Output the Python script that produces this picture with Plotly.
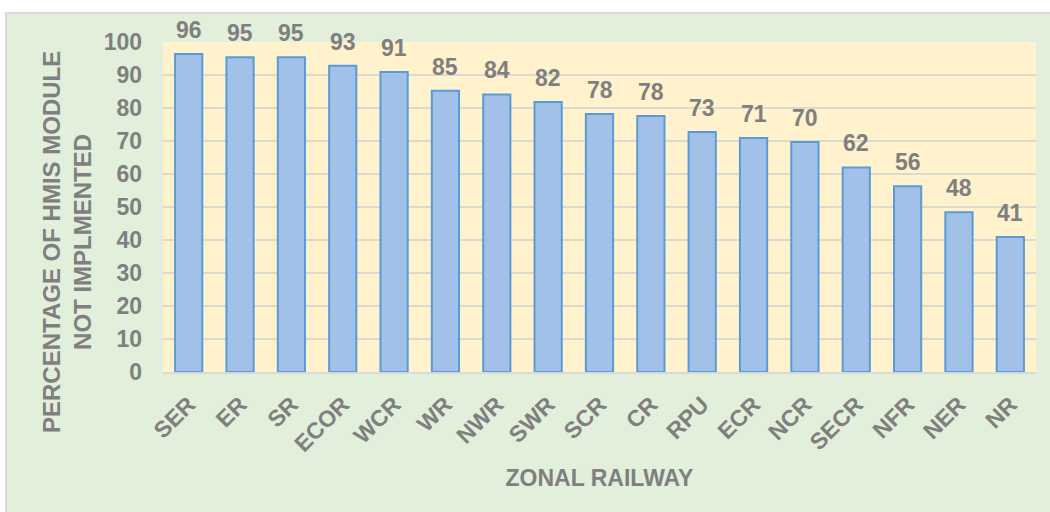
import plotly.graph_objects as go

zones = ["SER", "ER", "SR", "ECOR", "WCR", "WR", "NWR", "SWR", "SCR", "CR",
         "RPU", "ECR", "NCR", "SECR", "NFR", "NER", "NR"]
pct_not_implemented = [96.4, 95.4, 95.4, 92.8, 90.9, 85.2, 84.1, 81.8, 78.2, 77.6,
                       72.7, 70.9, 69.7, 62.0, 56.3, 48.4, 40.9]
y_ticks = [0, 10, 20, 30, 40, 50, 60, 70, 80, 90, 100]

GREY = "#7F7F7F"
FONT = "Liberation Sans, Arial, sans-serif"
W, H = 1050, 512
L, R, T, B = 163, 14, 42, 140
pw, ph = W - L - R, H - T - B


def f(size=23):
    return dict(family=FONT, size=size, color=GREY, weight="bold")


fig = go.Figure()
fig.add_trace(go.Bar(
    x=zones, y=pct_not_implemented,
    marker=dict(color="#A2C1E8", line=dict(color="#5B9BD5", width=2)),
    cliponaxis=False, width=0.53, hoverinfo="x+y",
))

shapes = [
    dict(type="rect", xref="paper", yref="paper", layer="below",
         x0=(6 - L) / pw, x1=(W + 5 - L) / pw, y0=(H - B - (H + 5)) / ph, y1=(H - B - 13) / ph,
         fillcolor="#E2EFDA", line=dict(color="#D9D9D9", width=2)),
    dict(type="rect", xref="paper", yref="paper", layer="below",
         x0=0, x1=1, y0=0, y1=1, fillcolor="#FFF2CC", line=dict(width=0)),
]

annotations = [dict(
    text="PERCENTAGE OF HMIS MODULE<br>NOT IMPLMENTED",
    xref="paper", yref="paper", x=(67 - L) / pw, y=(H - B - 242) / ph,
    xanchor="center", yanchor="middle", textangle=-90, showarrow=False,
    font=f(24),
)]
for z, v in zip(zones, pct_not_implemented):
    annotations.append(dict(
        x=z, y=v, xref="x", yref="y", text=f"{v:.0f}", showarrow=False,
        xanchor="center", yanchor="bottom", yshift=9, font=f(23),
    ))

fig.update_layout(
    width=W, height=H,
    margin=dict(l=L, r=R, t=T, b=B, autoexpand=False),
    paper_bgcolor="white", plot_bgcolor="rgba(0,0,0,0)",
    shapes=shapes,
    showlegend=False,
    font=f(23),
    xaxis=dict(
        tickangle=-45, tickfont=f(23), automargin=False,
        showline=True, linecolor="#D9D9D9", linewidth=2,
        ticks="", ticklabelstandoff=8,
        title=dict(text="ZONAL RAILWAY", font=f(23), standoff=14),
    ),
    yaxis=dict(
        range=[0, 100], tickvals=y_ticks, automargin=False,
        tickfont=f(23),
        gridcolor="#DCD9CF", gridwidth=1.5,
        zeroline=False, showline=False, ticks="", ticklabelstandoff=20,
    ),
    annotations=annotations,
)

fig.write_html("out.html", config={"displayModeBar": False},
               post_script="document.body.style.margin='0';window.dispatchEvent(new Event('resize'));")
